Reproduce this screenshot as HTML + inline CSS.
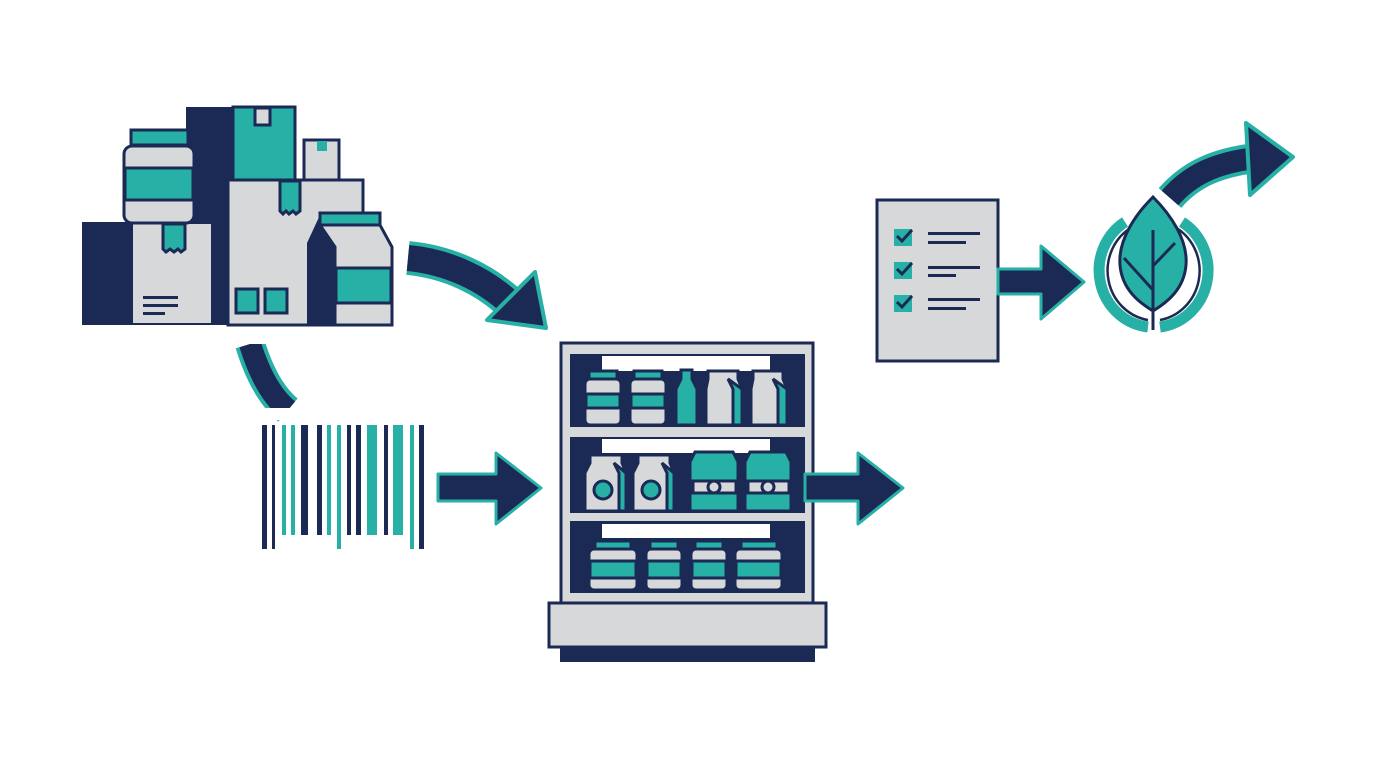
<!DOCTYPE html>
<html><head><meta charset="utf-8"><style>html,body{margin:0;padding:0;background:#fff}svg{display:block}</style></head>
<body>
<svg width="1376" height="768" viewBox="0 0 1376 768" xmlns="http://www.w3.org/2000/svg">
<defs>
<style>.n{fill:#1b2a55}.t{fill:#27b0a5}.g{fill:#d6d8da}.o{stroke:#1b2a55;stroke-width:3}</style>
</defs>
<rect width="1376" height="768" fill="#fff"/>

<!-- arc 2 -->
<path d="M250 344 C258 370 270 395 288 410" fill="none" stroke="#27b0a5" stroke-width="30"/>
<path d="M250 344 C258 370 270 395 288 410" fill="none" stroke="#1b2a55" stroke-width="22"/>
<rect x="230" y="408" width="80" height="12" fill="#fff"/>
<rect x="225" y="327" width="60" height="17" fill="#fff"/>

<!-- Boxes cluster -->
<rect x="186" y="107" width="110" height="120" class="n"/>
<rect x="186" y="200" width="44" height="125" class="n"/>
<rect x="233" y="107" width="62" height="73" class="t o"/>
<rect x="255" y="108" width="15" height="17" class="g o"/>
<rect x="304" y="140" width="35" height="42" class="g o"/>
<rect x="317" y="141" width="10" height="10" class="t"/>
<rect x="82" y="222" width="131" height="103" class="n"/>
<rect x="133" y="224" width="78" height="99" class="g"/>
<path d="M163 224 h22 v25 l-4 3 -3-3 -4 3 -4-3 -4 3 -3-3z" class="t o"/>
<rect x="143" y="296" width="35" height="3" class="n"/><rect x="143" y="304" width="35" height="3" class="n"/><rect x="143" y="312" width="22" height="3" class="n"/>
<rect x="131" y="130" width="57" height="15" class="t o"/>
<rect x="124" y="146" width="70" height="77" rx="8" class="g o"/>
<rect x="125" y="168" width="68" height="32" class="t o"/>
<rect x="228" y="180" width="135" height="145" class="g o"/>
<path d="M280 181 h20 v30 l-4 3 -3-3 -4 3 -3-3 -3 3 -3-3z" class="t o"/>
<rect x="236" y="289" width="22" height="24" class="t o"/>
<rect x="265" y="289" width="22" height="24" class="t o"/>
<path d="M307 325 V243 L320 215 L335 243 V325z" class="n"/>
<path d="M320 225 H380 L392 247 V325 H335 V247z" class="g o"/>
<rect x="320" y="213" width="60" height="12" class="t o"/>
<rect x="336" y="268" width="55" height="35" class="t o"/>

<!-- Curved arrow 1 -->
<path d="M408 258 C450 262 485 280 510 303" fill="none" stroke="#27b0a5" stroke-width="34"/>
<path d="M408 258 C450 262 485 280 510 303" fill="none" stroke="#1b2a55" stroke-width="26"/>
<path d="M487 320 L546 328 L535 272z" class="n" stroke="#27b0a5" stroke-width="4" stroke-linejoin="round"/>

<!-- Barcode -->
<g>
<rect x="262" y="425" width="5" height="124" class="n"/>
<rect x="272" y="425" width="3" height="124" class="n"/>
<rect x="282" y="425" width="4" height="110" class="t"/>
<rect x="291" y="425" width="4" height="110" class="t"/>
<rect x="301" y="425" width="7" height="110" class="n"/>
<rect x="317" y="425" width="5" height="110" class="n"/>
<rect x="327" y="425" width="4" height="110" class="t"/>
<rect x="337" y="425" width="4" height="124" class="t"/>
<rect x="347" y="425" width="4" height="110" class="n"/>
<rect x="356" y="425" width="5" height="110" class="n"/>
<rect x="367" y="425" width="10" height="110" class="t"/>
<rect x="384" y="425" width="4" height="110" class="n"/>
<rect x="393" y="425" width="10" height="110" class="t"/>
<rect x="410" y="425" width="4" height="124" class="t"/>
<rect x="419" y="425" width="5" height="124" class="n"/>
</g>

<!-- Straight arrow 1 -->
<path d="M438 474 H496 V453 L541 488 L496 524 V501 H438z" class="n" stroke="#27b0a5" stroke-width="3" stroke-linejoin="round"/>

<!-- Shelf -->
<rect x="561" y="343" width="252" height="262" class="g o"/>
<rect x="570" y="354" width="235" height="73" class="n"/>
<rect x="570" y="437" width="235" height="76" class="n"/>
<rect x="570" y="521" width="235" height="72" class="n"/>
<rect x="602" y="356" width="168" height="15" fill="#fff"/>
<rect x="602" y="439" width="168" height="14" fill="#fff"/>
<rect x="602" y="524" width="168" height="14" fill="#fff"/>
<g class="o">
<rect x="589" y="371" width="28" height="9" class="t"/><rect x="585" y="379" width="36" height="46" rx="5" class="g"/><rect x="586" y="394" width="34" height="14" class="t"/>
<rect x="634" y="371" width="28" height="9" class="t"/><rect x="630" y="379" width="36" height="46" rx="5" class="g"/><rect x="631" y="394" width="34" height="14" class="t"/>
<path d="M681 370 h11 v9 l5 10 v36 h-21 v-36 l5-10z" class="t"/>
<path d="M708 371 h30 v8 l4 10 v36 h-36 v-36 l2-10z" class="g"/><path d="M728 379 l5 10 v36 h9 v-36z" class="t"/>
<path d="M753 371 h30 v8 l4 10 v36 h-36 v-36 l2-10z" class="g"/><path d="M773 379 l5 10 v36 h9 v-36z" class="t"/>
</g>
<g class="o">
<path d="M590 455 h32 v8 l4 10 v38 h-41 v-38 l5-10z" class="g"/><path d="M614 463 l5 10 v38 h7 v-38z" class="t"/><circle cx="603" cy="490" r="9" class="t"/>
<path d="M638 455 h32 v8 l4 10 v38 h-41 v-38 l5-10z" class="g"/><path d="M662 463 l5 10 v38 h7 v-38z" class="t"/><circle cx="651" cy="490" r="9" class="t"/>
<path d="M695 452 h38 l5 10 v49 h-48 v-49z" class="t"/><path d="M693 481 h43 v12 h-43z" class="g"/><circle cx="714" cy="487" r="6" class="g"/>
<path d="M750 452 h36 l5 10 v49 h-46 v-49z" class="t"/><path d="M748 481 h41 v12 h-41z" class="g"/><circle cx="768" cy="487" r="6" class="g"/>
</g>
<g class="o">
<rect x="595" y="541" width="36" height="9" class="t"/><rect x="589" y="549" width="48" height="41" rx="5" class="g"/><rect x="590" y="561" width="46" height="17" class="t"/>
<rect x="650" y="541" width="28" height="9" class="t"/><rect x="646" y="549" width="36" height="41" rx="5" class="g"/><rect x="647" y="561" width="34" height="17" class="t"/>
<rect x="695" y="541" width="28" height="9" class="t"/><rect x="691" y="549" width="36" height="41" rx="5" class="g"/><rect x="692" y="561" width="34" height="17" class="t"/>
<rect x="741" y="541" width="36" height="9" class="t"/><rect x="735" y="549" width="47" height="41" rx="5" class="g"/><rect x="736" y="561" width="45" height="17" class="t"/>
</g>
<rect x="549" y="603" width="277" height="44" class="g o"/>
<rect x="560" y="647" width="255" height="15" class="n"/>

<path d="M805 474 H858 V453 L903 488 L858 524 V501 H805z" class="n" stroke="#27b0a5" stroke-width="3" stroke-linejoin="round"/>

<!-- Checklist -->
<rect x="877" y="200" width="121" height="161" class="g o"/>
<g>
<rect x="894" y="229" width="18" height="17" class="t"/><path d="M897 236 l5 5 l10-11" fill="none" stroke="#1b2a55" stroke-width="3"/>
<rect x="928" y="232" width="52" height="3" class="n"/><rect x="928" y="241" width="38" height="3" class="n"/>
<rect x="894" y="262" width="18" height="17" class="t"/><path d="M897 269 l5 5 l10-11" fill="none" stroke="#1b2a55" stroke-width="3"/>
<rect x="928" y="266" width="52" height="3" class="n"/><rect x="928" y="274" width="28" height="3" class="n"/>
<rect x="894" y="295" width="18" height="17" class="t"/><path d="M897 302 l5 5 l10-11" fill="none" stroke="#1b2a55" stroke-width="3"/>
<rect x="928" y="298" width="52" height="3" class="n"/><rect x="928" y="307" width="38" height="3" class="n"/>
</g>
<path d="M998 269 H1041 V246 L1084 282 L1041 319 V294 H998z" class="n" stroke="#27b0a5" stroke-width="3" stroke-linejoin="round"/>

<!-- Leaf ring -->
<path d="M1125 222 A55 57 0 0 0 1148 327" fill="none" stroke="#27b0a5" stroke-width="11"/>
<path d="M1182 222 A55 57 0 0 1 1160 327" fill="none" stroke="#27b0a5" stroke-width="11"/>
<path d="M1129 229 A48 50 0 0 0 1148 320" fill="none" stroke="#1b2a55" stroke-width="2.5"/>
<path d="M1178 229 A48 50 0 0 1 1160 320" fill="none" stroke="#1b2a55" stroke-width="2.5"/>
<path d="M1153 197 C1135 215 1118 240 1120 265 C1122 290 1140 303 1153 311 C1166 303 1184 290 1186 265 C1188 240 1171 215 1153 197z" class="t" stroke="#1b2a55" stroke-width="3"/>
<path d="M1153 230 V330 M1153 266 L1175 243 M1153 290 L1124 258" fill="none" stroke="#1b2a55" stroke-width="3"/>

<!-- Curved arrow up-right -->
<path d="M1170 198 C1190 175 1215 163 1255 158" fill="none" stroke="#27b0a5" stroke-width="30"/>
<path d="M1170 198 C1190 175 1215 163 1255 158" fill="none" stroke="#1b2a55" stroke-width="22"/>
<path d="M1246 123 L1293 157 L1250 195z" class="n" stroke="#27b0a5" stroke-width="4" stroke-linejoin="round"/>
</svg>
</body></html>
